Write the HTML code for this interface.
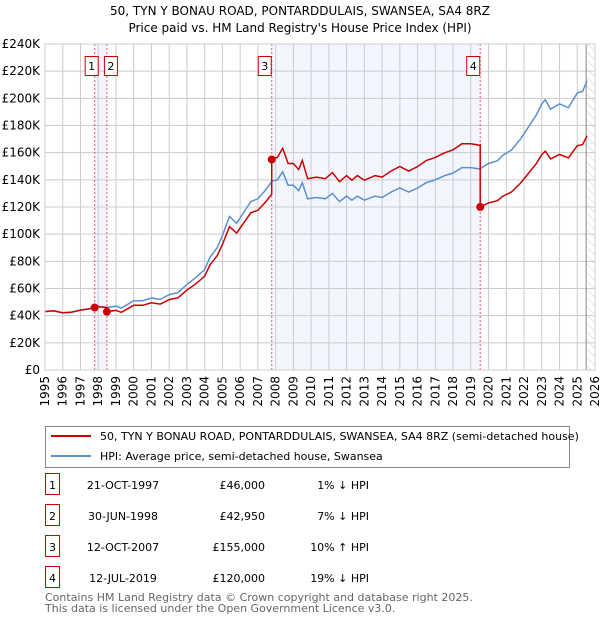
<!DOCTYPE html>
<html><head><meta charset="utf-8"><style>
body{margin:0;background:#fff;font-family:"DejaVu Sans","Liberation Sans",sans-serif;}
svg text{font-family:"DejaVu Sans","Liberation Sans",sans-serif;}
</style></head><body>
<svg id="c" width="600" height="620" xmlns="http://www.w3.org/2000/svg">
<defs><pattern id="hatch" width="6" height="6" patternUnits="userSpaceOnUse" patternTransform="rotate(-45)"><line x1="0" y1="0" x2="0" y2="6" stroke="#ccc" stroke-width="1"/></pattern></defs>
<text x="300" y="15" text-anchor="middle" font-size="12">50, TYN Y BONAU ROAD, PONTARDDULAIS, SWANSEA, SA4 8RZ</text>
<text x="300" y="32" text-anchor="middle" font-size="12">Price paid vs. HM Land Registry's House Price Index (HPI)</text>
<g id="plot"></g>
<g>
<rect x="45.5" y="426.5" width="524" height="41" fill="#fff" stroke="#888"/>
<line x1="51" y1="436" x2="91" y2="436" stroke="#cc0000" stroke-width="2"/>
<text x="100" y="440" font-size="11">50, TYN Y BONAU ROAD, PONTARDDULAIS, SWANSEA, SA4 8RZ (semi-detached house)</text>
<line x1="51" y1="456" x2="91" y2="456" stroke="#5b8fd0" stroke-width="2"/>
<text x="100" y="460" font-size="11">HPI: Average price, semi-detached house, Swansea</text>
</g>
<g id="table" font-size="11"></g>
<text x="45" y="601" font-size="11" fill="#666">Contains HM Land Registry data © Crown copyright and database right 2025.</text>
<text x="45" y="612" font-size="11" fill="#666">This data is licensed under the Open Government Licence v3.0.</text>
</svg>
<script>
const hpiYears=[1995,1995.5,1996,1996.5,1997,1997.5,1998,1998.5,1999,1999.3,2000,2000.5,2001,2001.5,2002,2002.5,2003,2003.5,2004,2004.3,2004.7,2005,2005.4,2005.8,2006.2,2006.6,2007,2007.4,2007.8,2008.1,2008.4,2008.7,2009,2009.3,2009.5,2009.8,2010.3,2010.8,2011.2,2011.6,2012,2012.3,2012.6,2013,2013.6,2014,2014.5,2015,2015.5,2016,2016.5,2017,2017.5,2018,2018.5,2019,2019.5,2020,2020.5,2020.8,2021.3,2021.8,2022.3,2022.7,2023,2023.2,2023.5,2024,2024.5,2025,2025.3,2025.55];
const hpiValues=[43,43.5,42,42.5,44,45,46.5,46,47,45.5,51,51,53,52,55.5,57,63,68,74,83,90,99,113,108,116,124,126,132,139,140,146,136,136,132,138,126,127,126,130,124,128,125,128,125,128,127,131,134,131,134,138,140,143,145,149,149,148,152,154,158,162,170,180,188,196,199,192,196,193,204,205,213];
const saleLabels=["1","2","3","4"];
const saleYears=[1997.8,1998.49,2007.78,2019.53];
const salePrices=[46000,42950,155000,120000];
const saleDates=["21-OCT-1997","30-JUN-1998","12-OCT-2007","12-JUL-2019"];
const saleDiffs=["1% \u2193 HPI","7% \u2193 HPI","10% \u2191 HPI","19% \u2193 HPI"];
const yTicks=[0,20,40,60,80,100,120,140,160,180,200,220,240];
const xTicks=[1995,1996,1997,1998,1999,2000,2001,2002,2003,2004,2005,2006,2007,2008,2009,2010,2011,2012,2013,2014,2015,2016,2017,2018,2019,2020,2021,2022,2023,2024,2025,2026];

const X0=45,X1=595,Y0=370,Y1=44;
const xs=y=>X0+(y-1995)/31*(X1-X0);
const ys=v=>Y0-v/240*(Y0-Y1);
const NS="http://www.w3.org/2000/svg";
const plot=document.getElementById('plot');
function mk(tag,attrs,parent){const e=document.createElementNS(NS,tag);for(const k in attrs)e.setAttribute(k,attrs[k]);(parent||plot).appendChild(e);return e;}
function hpiAt(t){if(t<=hpiYears[0])return hpiValues[0];for(let i=1;i<hpiYears.length;i++){if(t<=hpiYears[i]){const f=(t-hpiYears[i-1])/(hpiYears[i]-hpiYears[i-1]);return hpiValues[i-1]+f*(hpiValues[i]-hpiValues[i-1]);}}return hpiValues[hpiValues.length-1];}

let r=mk('rect',{x:xs(saleYears[0]),y:Y1,width:xs(saleYears[1])-xs(saleYears[0]),height:Y0-Y1,fill:'#f3f6fe'});


r=mk('rect',{x:xs(saleYears[2]),y:Y1,width:xs(saleYears[3])-xs(saleYears[2]),height:Y0-Y1,fill:'#f3f6fe'});


r=mk('rect',{x:xs(2025.5),y:Y1,width:X1-xs(2025.5),height:Y0-Y1,fill:'url(#hatch)'});


yTicks.forEach(v=>{const l=mk('line',{x1:X0,x2:X1,y1:ys(v),y2:ys(v),stroke:'#cccccc'});


const t=mk('text',{x:X0-5,y:ys(v)+4,'text-anchor':'end','font-size':12});t.textContent=v===0?'£0':'£'+v+'K';

});
xTicks.forEach(v=>{const l=mk('line',{x1:xs(v),x2:xs(v),y1:Y1,y2:Y0,stroke:'#cccccc'});


const t=mk('text',{x:0,y:0,'text-anchor':'end','font-size':12,transform:`translate(${xs(v)+4},${Y0+6}) rotate(-90)`});t.textContent=v;

});
let vl=mk('line',{x1:xs(2025.5),x2:xs(2025.5),y1:Y1,y2:Y0,stroke:'#888'});


saleYears.forEach((s,i)=>{const l=mk('line',{x1:xs(s),x2:xs(s),y1:Y1,y2:Y0,stroke:'#ee5566','stroke-dasharray':'2,2'});

});
let d='';hpiYears.forEach((t,i)=>{d+=(i?'L':'M')+xs(t).toFixed(1)+','+ys(hpiValues[i]).toFixed(1);});
let p=mk('path',{d:d,fill:'none',stroke:'#5b8fd0','stroke-width':1.5});


const ratios=saleYears.map((s,i)=>salePrices[i]/1000/hpiAt(s));
const times=hpiYears.concat(saleYears).sort((a,b)=>a-b);
d='';let first=true;
times.forEach(t=>{let k=0;for(let i=0;i<saleYears.length;i++)if(t>=saleYears[i])k=i;
 for(let i=0;i<saleYears.length;i++){if(Math.abs(t-saleYears[i])<1e-9&&i>0){d+='L'+xs(t).toFixed(1)+','+ys(hpiAt(t)*ratios[i-1]).toFixed(1);}}
 d+=(first?'M':'L')+xs(t).toFixed(1)+','+ys(hpiAt(t)*ratios[k]).toFixed(1);first=false;});
p=mk('path',{d:d,fill:'none',stroke:'#cc0000','stroke-width':1.5});


saleYears.forEach((s,i)=>{const c=mk('circle',{cx:xs(s),cy:ys(salePrices[i]/1000),r:4,fill:'#cc0000'});


let bx=xs(s)-14;if(i===1)bx=xs(s)-3;if(i===0)bx=xs(s)-10;
const g=mk('g',{});


mk('rect',{x:bx+0.5,y:56.5,width:13,height:19,fill:'#fff',stroke:'#cc0000'},g);
const t=mk('text',{x:bx+7,y:70,'text-anchor':'middle','font-size':11},g);t.textContent=saleLabels[i];});
const tb=document.getElementById('table');
saleYears.forEach((s,i)=>{const y=485+i*31;
const g=mk('g',{},tb);


mk('rect',{x:45.5,y:y-11.5,width:14,height:21,fill:'#fff',stroke:'#cc0000'},g);
let t=mk('text',{x:52.5,y:y+4,'text-anchor':'middle'},g);t.textContent=saleLabels[i];
t=mk('text',{x:123,y:y+4,'text-anchor':'middle'},g);t.textContent=saleDates[i];
t=mk('text',{x:265,y:y+4,'text-anchor':'end'},g);t.textContent='£'+salePrices[i].toLocaleString('en-GB');
t=mk('text',{x:369,y:y+4,'text-anchor':'end'},g);t.textContent=saleDiffs[i];});
let fr=mk('rect',{x:X0,y:Y1,width:X1-X0,height:Y0-Y1,fill:'none',stroke:'#cccccc'});


</script>
</body></html>
